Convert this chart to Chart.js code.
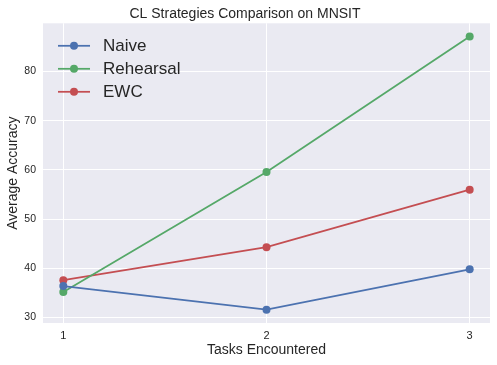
<!DOCTYPE html>
<html>
<head>
<meta charset="utf-8">
<script src="https://cdn.jsdelivr.net/npm/chart.js@4"></script>
<style>
  html, body { margin: 0; padding: 0; background: #fff; }
  #wrap { width: 497px; height: 365px; }
</style>
</head>
<body>
<div id="wrap"><canvas id="myChart" width="497" height="365"></canvas></div>
<script>
const tasks = [1, 2, 3];
const seriesNames = ['Naive', 'Rehearsal', 'EWC'];
const naive = [36.4, 31.6, 39.8];
const rehearsal = [35.2, 59.6, 87.1];
const ewc = [37.6, 44.3, 56.0];
const yTicks = [30, 40, 50, 60, 70, 80];

const colors = ['#4C72B0', '#55A868', '#C44E52'];
const FONT = "'Liberation Sans', Arial, sans-serif";
const TICK_FONT = "'Liberation Sans Narrow', 'Liberation Sans', Arial, sans-serif";

// grey plot background like seaborn darkgrid
const bgPlugin = {
  id: 'bg',
  beforeDraw(chart) {
    const { ctx, chartArea: a } = chart;
    ctx.save();
    ctx.fillStyle = '#EAEAF2';
    ctx.fillRect(a.left, a.top, a.right - a.left, a.bottom - a.top);
    ctx.restore();
  }
};

// legend drawn inside the plot, upper left
const innerLegend = {
  id: 'innerLegend',
  afterDraw(chart) {
    const { ctx, chartArea: a } = chart;
    ctx.save();
    chart.data.datasets.forEach((ds, i) => {
      const y = a.top + 22.5 + i * 23;
      const x0 = a.left + 15;
      ctx.strokeStyle = ds.borderColor;
      ctx.lineWidth = 1.75;
      ctx.beginPath();
      ctx.moveTo(x0, y);
      ctx.lineTo(x0 + 32, y);
      ctx.stroke();
      ctx.fillStyle = ds.backgroundColor;
      ctx.beginPath();
      ctx.arc(x0 + 16, y, 4, 0, Math.PI * 2);
      ctx.fill();
      ctx.fillStyle = '#262626';
      ctx.font = '17px ' + FONT;
      ctx.textBaseline = 'middle';
      ctx.textAlign = 'left';
      ctx.fillText(ds.label, x0 + 45, y + 1);
    });
    ctx.restore();
  }
};

const allSeries = [naive, rehearsal, ewc];
const datasets = allSeries.map((vals, i) => ({
  label: seriesNames[i],
  data: vals.map((v, j) => ({ x: tasks[j], y: v })),
  borderColor: colors[i],
  backgroundColor: colors[i],
  borderWidth: 1.75,
  pointRadius: 4,
  pointHoverRadius: 4,
  pointBorderWidth: 0,
  tension: 0,
  fill: false
}));

const ctx = document.getElementById('myChart').getContext('2d');
new Chart(ctx, {
  type: 'line',
  data: { datasets: datasets },
  options: {
    responsive: false,
    animation: false,
    events: [],
    layout: { padding: { left: 0, right: 7, top: 0, bottom: 0 } },
    scales: {
      x: {
        type: 'linear',
        min: 0.9,
        max: 3.1,
        afterBuildTicks: (scale) => { scale.ticks = tasks.map(v => ({ value: v })); },
        afterFit: (scale) => { scale.height = 42; },
        border: { display: false },
        grid: { color: '#ffffff', lineWidth: 1, drawTicks: false },
        ticks: {
          padding: 6,
          color: '#262626',
          font: { family: TICK_FONT, size: 11 }
        },
        title: {
          display: true,
          text: 'Tasks Encountered',
          color: '#262626',
          font: { family: FONT, size: 14 },
          padding: { top: 0, bottom: 6 }
        }
      },
      y: {
        min: 28.9,
        max: 89.8,
        afterBuildTicks: (scale) => { scale.ticks = yTicks.map(v => ({ value: v })); },
        afterFit: (scale) => { scale.width = 43; },
        border: { display: false },
        grid: { color: '#ffffff', lineWidth: 1, drawTicks: false },
        ticks: {
          padding: 7,
          color: '#262626',
          font: { family: TICK_FONT, size: 10.5 }
        },
        title: {
          display: true,
          text: 'Average Accuracy',
          color: '#262626',
          font: { family: FONT, size: 14 },
          padding: { top: 4.5, bottom: 0 }
        }
      }
    },
    plugins: {
      legend: { display: false },
      tooltip: { enabled: false },
      title: {
        display: true,
        text: 'CL Strategies Comparison on MNSIT',
        color: '#262626',
        font: { family: FONT, size: 14, weight: 'normal' },
        padding: { top: 5.5, bottom: 1 }
      }
    }
  },
  plugins: [bgPlugin, innerLegend]
});
</script>
</body>
</html>
